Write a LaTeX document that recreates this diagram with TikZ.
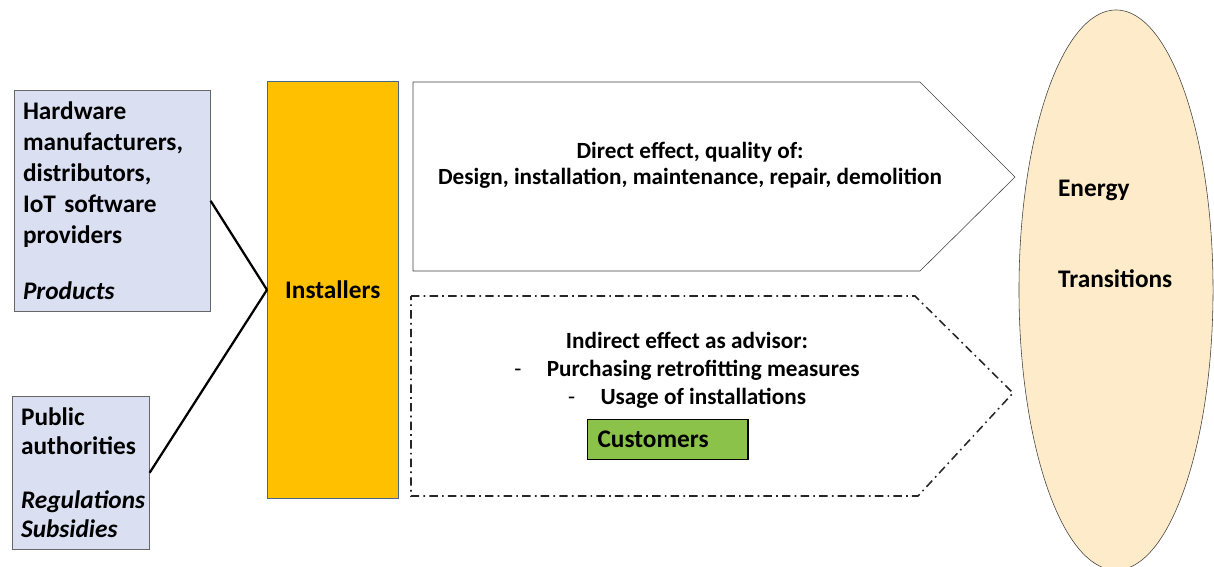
\documentclass[tikz,border=0pt]{standalone}
\usepackage{fontspec}
\setmainfont{Carlito}
\usetikzlibrary{shapes.geometric}
\definecolor{actorblue}{HTML}{DAE0F1}
\definecolor{instorange}{HTML}{FFC000}
\definecolor{instedge}{HTML}{4A6688}
\definecolor{energycream}{HTML}{FDEBC9}
\definecolor{custgreen}{HTML}{8BC24A}

\begin{document}
\begin{tikzpicture}[x=0.025cm,y=-0.025cm,semithick]
		\tikzstyle{every node}=[font=\bfseries\fontsize{18}{22}\selectfont]
		\tikzstyle{actor}=[draw=black!60,fill=actorblue,thin,anchor=north west,align=left,inner xsep=6pt]
		\tikzstyle{small}=[font=\bfseries\fontsize{16.5}{20}\selectfont,align=center]
		\tikzstyle{advice}=[black!85,line width=1.1pt,dash pattern=on 6pt off 3pt on 1.2pt off 3pt]

		\path[use as bounding box,clip] (0,0) rectangle (1214,566);

		\node[ellipse,draw=black!75,fill=energycream,thin,minimum width=4.85cm,minimum height=14cm] (goal) at (1116,290) {};
		\node[anchor=west,align=left] (energy) at (1053,234) {Energy\\[43pt]Transitions};

		\node[actor,minimum width=4.9cm,minimum height=5.525cm,text width=127pt] (hw) at (14,90)
			{Hardware\\manufacturers,\\distributors,\\IoT software\\providers\\[18pt]\textit{Products}};
		\node[actor,minimum width=3.425cm,minimum height=3.825cm,text width=85pt,font=\bfseries\fontsize{18}{20.5}\selectfont] (pub) at (12,396)
			{Public\\authorities\\[18pt]\textit{Regulations}\\\textit{Subsidies}};
		\node[draw=instedge,fill=instorange,thin,anchor=north west,minimum width=3.275cm,minimum height=10.425cm] (inst) at (267,81) {Installers};

		\path[line width=1.6pt] (hw.east) edge (inst.west);
		\path[line width=1.6pt] (pub.east) edge (inst.west);

		\draw[black!75,thin] (413,82) -- (920,82) -- (1015,177) -- (920,271) -- (413,271) -- cycle;
		\node[small,font=\bfseries\fontsize{16.5}{18.5}\selectfont] (direct) at (690,165) {Direct effect, quality of:\\Design, installation, maintenance, repair, demolition};

		\draw[advice] (411,296) -- (915,296) -- (1013,393) -- (918,496) -- (411,496) -- cycle;
		\node[small] (advice) at (687,370) {Indirect effect as advisor:\\{\mdseries-}\hspace{18pt}Purchasing retrofitting measures\\{\mdseries-}\hspace{18pt}Usage of installations};
		\node[draw=black,fill=custgreen,line width=1pt,anchor=north west,minimum height=1cm,text width=100pt,inner xsep=7pt,align=left] (cust) at (587,419) {Customers};

\end{tikzpicture}
\end{document}
